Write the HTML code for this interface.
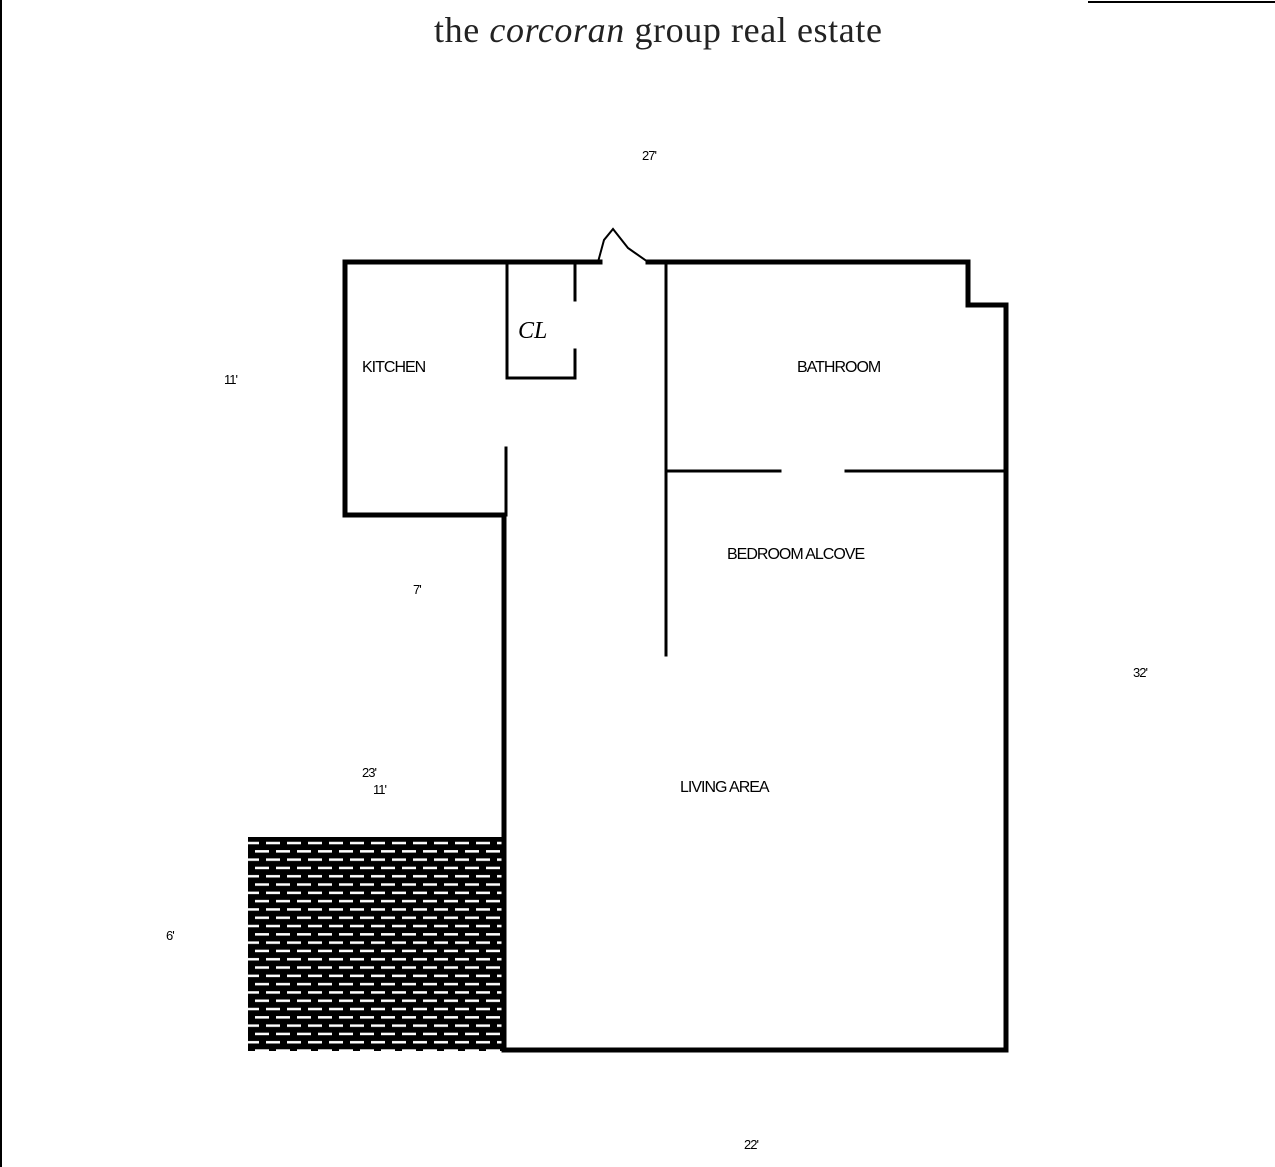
<!DOCTYPE html>
<html><head><style>
body{margin:0;width:1275px;height:1167px;background:#fff;position:relative;overflow:hidden;font-family:"Liberation Sans",sans-serif}
.t{position:absolute;font-size:16px;letter-spacing:-1px;color:#000;white-space:nowrap}
</style></head><body>
<div style="position:absolute;left:0;top:0;width:2px;height:1167px;background:#000"></div>
<div style="position:absolute;left:1088px;top:1px;width:187px;height:2px;background:#000"></div>
<div style="position:absolute;left:434px;top:9px;font-family:'Liberation Serif',serif;font-size:36px;letter-spacing:0.6px;color:#222;white-space:nowrap">the <i>corcoran</i> group real estate</div>
<svg width="1275" height="1167" style="position:absolute;left:0;top:0">
<defs><pattern id="b" width="42" height="16.6" patternUnits="userSpaceOnUse">
<rect width="42" height="16.6" fill="#000"/>
<rect x="3" y="3.5" width="14" height="2.5" fill="#fff"/><rect x="24" y="3.5" width="14" height="2.5" fill="#fff"/>
<rect x="-7" y="11.8" width="14" height="2.5" fill="#fff"/><rect x="14" y="11.8" width="14" height="2.5" fill="#fff"/><rect x="35" y="11.8" width="14" height="2.5" fill="#fff"/>
</pattern></defs>
<rect x="248" y="837" width="254" height="214" fill="url(#b)"/>
<g stroke="#000" fill="none" stroke-linecap="square">
<polyline stroke-width="5" points="600,262 345,262 345,515 504,515 504,1050 1006,1050 1006,305 968,305 968,262 648,262"/>
<polyline stroke-width="2" points="598,262 604,240 613,229 628,248 648,262"/>
<line stroke-width="3" x1="506" y1="448" x2="506" y2="515"/>
<polyline stroke-width="3" points="507,262 507,378 575,378 575,350"/>
<line stroke-width="3" x1="575" y1="262" x2="575" y2="300"/>
<line stroke-width="3" x1="666" y1="262" x2="666" y2="655"/>
<line stroke-width="3" x1="666" y1="471" x2="780" y2="471"/>
<line stroke-width="3" x1="846" y1="471" x2="1006" y2="471"/>
</g>
<text x="518" y="338" font-family="Liberation Serif,serif" font-style="italic" font-size="24">CL</text>
</svg>
<div class="t" style="left:362px;top:359px">KITCHEN</div>
<div class="t" style="left:797px;top:359px">BATHROOM</div>
<div class="t" style="left:727px;top:546px">BEDROOM ALCOVE</div>
<div class="t" style="left:680px;top:779px">LIVING AREA</div>
<div class="t" style="left:642px;top:148px;font-size:13px">27'</div>
<div class="t" style="left:224px;top:372px;font-size:13px">11'</div>
<div class="t" style="left:413px;top:582px;font-size:13px">7'</div>
<div class="t" style="left:1133px;top:665px;font-size:13px">32'</div>
<div class="t" style="left:362px;top:765px;font-size:13px">23'</div>
<div class="t" style="left:373px;top:782px;font-size:13px">11'</div>
<div class="t" style="left:166px;top:928px;font-size:13px">6'</div>
<div class="t" style="left:744px;top:1137px;font-size:13px">22'</div>
</body></html>
